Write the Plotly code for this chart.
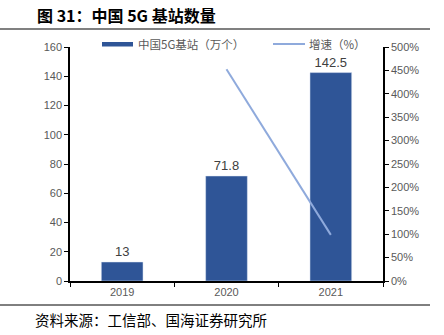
import plotly.graph_objects as go

years = ["2019", "2020", "2021"]
stations = [13, 71.8, 142.5]          # 中国5G基站（万个）
growth_years = ["2020", "2021"]
growth = [452.3, 98.5]                # 增速（%）

bar_color = "#2F5597"
line_color = "#8FAADC"
tick_gray = "#595959"
font_main = "Liberation Sans, Arial, Noto Sans CJK SC"
font_cjk = "Noto Sans CJK SC"

fig = go.Figure()
fig.add_trace(go.Bar(
    x=years, y=stations, width=0.4, marker_color=bar_color,
    text=[f"{v:g}" for v in stations], textposition="outside",
    textfont=dict(size=13, color="#404040", family=font_main),
    cliponaxis=False, name="中国5G基站（万个）", showlegend=False,
))
fig.add_trace(go.Scatter(
    x=growth_years, y=growth, yaxis="y2", mode="lines",
    line=dict(color=line_color, width=2), name="增速（%）", showlegend=False,
))

fig.update_layout(
    width=444, height=335,
    margin=dict(l=70, r=61, t=47, b=54),
    paper_bgcolor="white", plot_bgcolor="white",
    font=dict(family=font_main, size=11, color=tick_gray),
    xaxis=dict(
        type="category", range=[-0.5, 2.5], tickson="boundaries",
        ticks="outside", ticklen=4, tickcolor="black",
        showline=True, linecolor="black", linewidth=1.5,
        tickfont=dict(size=11, color=tick_gray), showgrid=False,
    ),
    yaxis=dict(
        range=[0, 160], dtick=20, ticks="outside", ticklen=4, tickcolor="black",
        showline=True, linecolor="black", linewidth=1.5, showgrid=False,
        zeroline=False, tickfont=dict(size=11, color=tick_gray),
    ),
    yaxis2=dict(
        overlaying="y", side="right", range=[0, 500], dtick=50, ticksuffix="%",
        ticks="outside", ticklen=4, tickcolor="black",
        showline=True, linecolor="black", linewidth=1.5, showgrid=False,
        zeroline=False, tickfont=dict(size=11, color=tick_gray),
    ),
    bargap=0.6,
)


def px_x(x):
    return (x - 70) / 313


def px_y(y):
    return (281 - y) / 234


# Legend drawn as swatches and labels along the top of the plot area
fig.add_shape(type="rect", xref="paper", yref="paper",
              x0=px_x(102), x1=px_x(133), y0=px_y(46.5), y1=px_y(42),
              fillcolor=bar_color, line_width=0)
fig.add_annotation(xref="paper", yref="paper", x=px_x(136), y=px_y(44),
                   text="中国5G基站（万个）", showarrow=False, xanchor="left", yanchor="middle",
                   font=dict(size=11.5, color=tick_gray, family=font_cjk))
fig.add_shape(type="line", xref="paper", yref="paper",
              x0=px_x(273), x1=px_x(305), y0=px_y(44), y1=px_y(44),
              line=dict(color=line_color, width=2))
fig.add_annotation(xref="paper", yref="paper", x=px_x(307), y=px_y(44),
                   text="增速（%）", showarrow=False, xanchor="left", yanchor="middle",
                   font=dict(size=11.5, color=tick_gray, family=font_cjk))

# Title and rules
fig.add_annotation(xref="paper", yref="paper", x=px_x(35), y=px_y(15),
                   text="<b>图 31：中国 5G 基站数量</b>", showarrow=False,
                   xanchor="left", yanchor="middle",
                   font=dict(size=16, color="black", family=font_cjk))
fig.add_shape(type="line", xref="paper", yref="paper",
              x0=px_x(0), x1=px_x(430), y0=px_y(29), y1=px_y(29),
              line=dict(color="#808080", width=2))
fig.add_shape(type="line", xref="paper", yref="paper",
              x0=px_x(0), x1=px_x(430), y0=px_y(305), y1=px_y(305),
              line=dict(color="black", width=1))
fig.add_annotation(xref="paper", yref="paper", x=px_x(33), y=px_y(319),
                   text="资料来源：工信部、国海证券研究所", showarrow=False,
                   xanchor="left", yanchor="middle",
                   font=dict(size=14.5, color="black", family=font_cjk))

fig.write_html("out.html")
